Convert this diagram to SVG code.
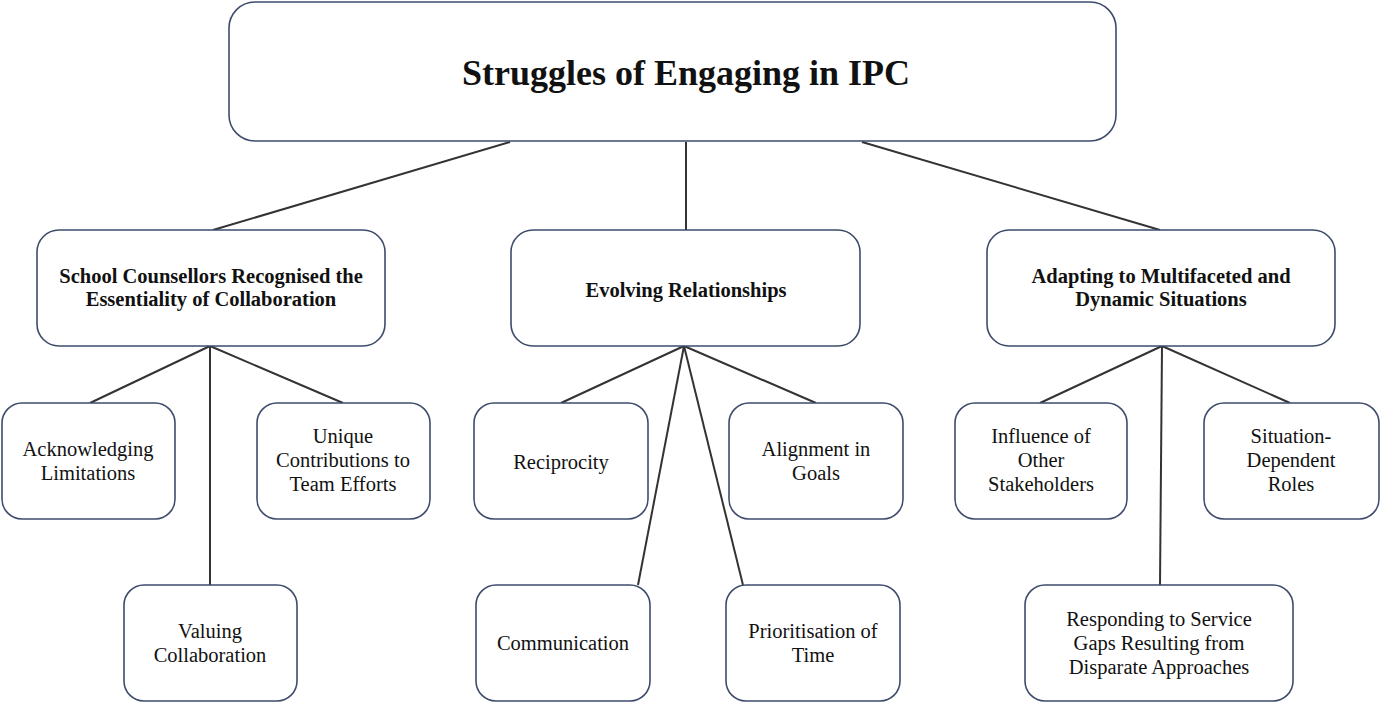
<svg xmlns="http://www.w3.org/2000/svg" width="1381" height="704" viewBox="0 0 1381 704">
<style>
rect{fill:#fff;stroke:#3e4b6b;stroke-width:1.6}
text{font-family:"Liberation Serif",serif;fill:#111;text-anchor:middle}
.t{font-size:36px;font-weight:bold}
.m{font-size:20.5px;font-weight:bold}
.l{font-size:20.5px}
#connectors line{stroke:#333;stroke-width:2}
</style>
<rect width="1381" height="704" style="fill:#fff;stroke:none"/>
<g id="connectors">
<line x1="510" y1="142" x2="213" y2="230"/><line x1="686" y1="142" x2="686" y2="230"/><line x1="862" y1="142" x2="1160" y2="230"/>
<line x1="210" y1="346" x2="90" y2="403"/><line x1="210" y1="346" x2="210" y2="585"/><line x1="210" y1="346" x2="343" y2="403"/>
<line x1="684" y1="346" x2="561" y2="403"/><line x1="684" y1="346" x2="638" y2="585"/><line x1="684" y1="346" x2="743" y2="585"/><line x1="684" y1="346" x2="816" y2="403"/>
<line x1="1162" y1="346" x2="1040" y2="403"/><line x1="1162" y1="346" x2="1160" y2="585"/><line x1="1162" y1="346" x2="1290" y2="403"/>
</g>
<g id="root"><rect x="229" y="2" width="887" height="139" rx="26"/><text class="t" x="686" y="85">Struggles of Engaging in IPC</text></g>
<g id="n1"><rect x="37" y="230" width="348" height="116" rx="22"/><text class="m" x="211" y="283">School Counsellors Recognised the</text><text class="m" x="211" y="306">Essentiality of Collaboration</text></g>
<g id="n2"><rect x="511" y="230" width="349" height="116" rx="22"/><text class="m" x="686" y="297">Evolving Relationships</text></g>
<g id="n3"><rect x="987" y="230" width="348" height="116" rx="22"/><text class="m" x="1161" y="283">Adapting to Multifaceted and</text><text class="m" x="1161" y="306">Dynamic Situations</text></g>
<g id="a1"><rect x="2" y="403" width="173" height="116" rx="20"/><text class="l" x="88" y="456">Acknowledging</text><text class="l" x="88" y="480">Limitations</text></g>
<g id="a2"><rect x="257" y="403" width="173" height="116" rx="20"/><text class="l" x="343" y="443">Unique</text><text class="l" x="343" y="467">Contributions to</text><text class="l" x="343" y="491">Team Efforts</text></g>
<g id="a3"><rect x="124" y="585" width="173" height="116" rx="20"/><text class="l" x="210" y="638">Valuing</text><text class="l" x="210" y="662">Collaboration</text></g>
<g id="b1"><rect x="474" y="403" width="174" height="116" rx="20"/><text class="l" x="561" y="469">Reciprocity</text></g>
<g id="b2"><rect x="729" y="403" width="174" height="116" rx="20"/><text class="l" x="816" y="456">Alignment in</text><text class="l" x="816" y="480">Goals</text></g>
<g id="b3"><rect x="476" y="585" width="174" height="116" rx="20"/><text class="l" x="563" y="650">Communication</text></g>
<g id="b4"><rect x="726" y="585" width="174" height="116" rx="20"/><text class="l" x="813" y="638">Prioritisation of</text><text class="l" x="813" y="662">Time</text></g>
<g id="c1"><rect x="955" y="403" width="172" height="116" rx="20"/><text class="l" x="1041" y="443">Influence of</text><text class="l" x="1041" y="467">Other</text><text class="l" x="1041" y="491">Stakeholders</text></g>
<g id="c2"><rect x="1204" y="403" width="175" height="116" rx="20"/><text class="l" x="1291" y="443">Situation-</text><text class="l" x="1291" y="467">Dependent</text><text class="l" x="1291" y="491">Roles</text></g>
<g id="c3"><rect x="1025" y="585" width="268" height="116" rx="20"/><text class="l" x="1159" y="626">Responding to Service</text><text class="l" x="1159" y="650">Gaps Resulting from</text><text class="l" x="1159" y="674">Disparate Approaches</text></g>
</svg>
